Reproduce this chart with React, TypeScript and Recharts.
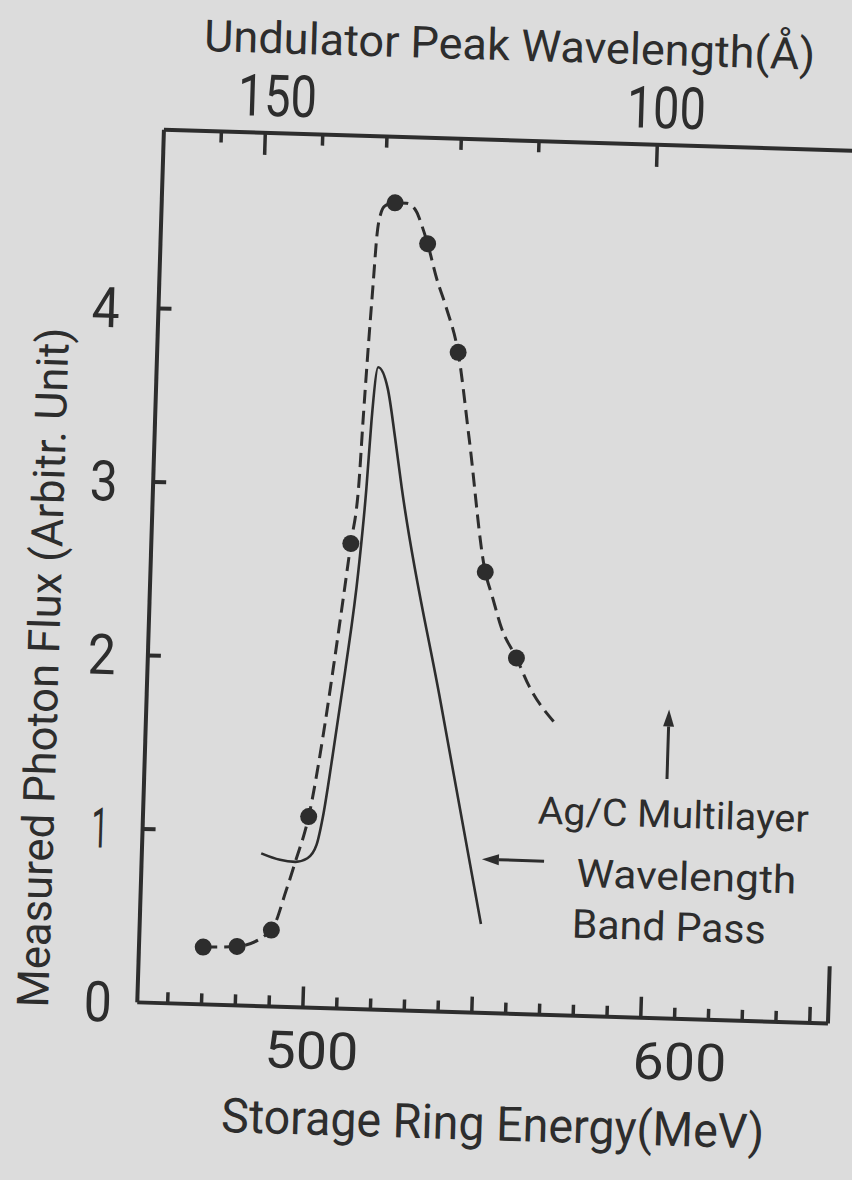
import React from 'react';
import { ComposedChart, Line, Scatter, XAxis, YAxis, ReferenceLine, Customized } from 'recharts';

// measured points (storage ring energy in MeV, photon flux in arbitrary units)
const energyMeV = [470, 480, 490, 500, 510, 520, 530, 540, 550, 560];
const photonFlux = [0.33, 0.34, 0.44, 1.1, 2.68, 4.65, 4.42, 3.8, 2.54, 2.05];

// dashed guide curve drawn through the measurements
const guideMeV = [470, 480, 490, 494, 496.5, 500, 504, 506, 510, 511.8, 512.5, 513.3, 514.2, 514.9, 515.8, 517, 520, 523.4, 526.5, 528, 530, 533, 536, 540, 544, 550, 552.3, 555.3, 560, 564, 571.6];
const guideFlux = [0.33, 0.34, 0.44, 0.67, 0.84, 1.1, 1.64, 1.97, 2.68, 3.01, 3.39, 3.78, 4.16, 4.45, 4.58, 4.63, 4.65, 4.65, 4.6, 4.53, 4.42, 4.22, 4.06, 3.8, 3.31, 2.54, 2.4, 2.22, 2.05, 1.89, 1.69];

// Ag/C multilayer wavelength band pass (solid curve)
const bandMeV = [486.3, 491.9, 496.4, 500, 502.6, 504.2, 506.5, 509.5, 512.5, 514.1, 515, 516.5, 519.5, 522.1, 524.5, 538, 551.9];
const bandFlux = [0.88, 0.846, 0.837, 0.86, 0.94, 1.1, 1.45, 1.95, 2.53, 3.0, 3.39, 3.7, 3.58, 3.3, 3.015, 1.78, 0.512];

// axes
const energyTicks = [460, 470, 480, 490, 500, 510, 520, 530, 540, 550, 560, 570, 580, 590, 600, 610, 620, 630, 640, 650];
const energyLabels = [500, 600];
const fluxTicks = [0, 1, 2, 3, 4];
const wavelengthTicks = [160, 150, 140, 130, 120, 110, 100];
const wavelengthTickMeV = [468, 481, 498, 517, 539, 562, 597];
const wavelengthLabels = [150, 100];

const INK = '#2d2d2d';
const PAPER = '#dcdcdc';
const FONT = 'Roboto, "DejaVu Sans", sans-serif';

function BottomTick(props: any) {
  const { x, y, payload } = props;
  const v = payload.value;
  const len = v % 100 === 0 ? 21 : v % 50 === 0 ? 16 : 11;
  const nudge = v === 600 ? 40 : 10;
  return (
    <g>
      <line x1={x} x2={x} y1={y} y2={y - len} stroke={INK} strokeWidth={3.5} />
      {energyLabels.includes(v) && (
        <text x={x + nudge} y={y + 61} textAnchor="middle" fontFamily={FONT} fontWeight={400} fontSize={52}
          fill={INK} textLength={94} lengthAdjust="spacingAndGlyphs">{v}</text>
      )}
    </g>
  );
}

function TopTick(props: any) {
  const { x, y, payload } = props;
  const i = wavelengthTickMeV.indexOf(payload.value);
  const lambda = wavelengthTicks[i];
  const labelled = wavelengthLabels.includes(lambda);
  const nudge = lambda === 150 ? 11 : 8;
  return (
    <g>
      <line x1={x} x2={x} y1={y} y2={y + (labelled ? 22 : 11)} stroke={INK} strokeWidth={3.5} />
      {labelled && (
        <text x={x + nudge} y={y - 17} textAnchor="middle" fontFamily={FONT} fontWeight={400} fontSize={58}
          fill={INK} textLength={79} lengthAdjust="spacingAndGlyphs">{lambda}</text>
      )}
    </g>
  );
}

function LeftTick(props: any) {
  const { x, y, payload } = props;
  const v = payload.value;
  return (
    <g>
      {v > 0 && <line x1={x} x2={x + 13} y1={y} y2={y} stroke={INK} strokeWidth={4} />}
      <text x={x - 46 + (2 - v) * 3.3} y={y + 20} textAnchor="middle" fontFamily={FONT} fontWeight={400} fontSize={56}
        fill={INK} textLength={v === 1 ? 17 : 28} lengthAdjust="spacingAndGlyphs">{v}</text>
    </g>
  );
}

function Arrow(props: any) {
  const { x1, y1, x2, y2 } = props;
  const dx = x2 - x1;
  const dy = y2 - y1;
  const len = Math.hypot(dx, dy) || 1;
  const ux = dx / len;
  const uy = dy / len;
  const head = 17;
  const half = 5.5;
  const bx = x2 - ux * head;
  const by = y2 - uy * head;
  return (
    <g>
      <line x1={x1} y1={y1} x2={bx} y2={by} stroke={INK} strokeWidth={3} />
      <polygon
        points={`${x2},${y2} ${bx - uy * half},${by + ux * half} ${bx + uy * half},${by - ux * half}`}
        fill={INK}
      />
    </g>
  );
}

function Lettering() {
  const t = { fontFamily: FONT, fontWeight: 400, fill: INK, textAnchor: 'middle' as const, lengthAdjust: 'spacingAndGlyphs' };
  return (
    <g>
      <text {...t} x={493} y={58} fontSize={44} textLength={611}>Undulator Peak Wavelength(Å)</text>
      <text {...t} x={509} y={1138} fontSize={48} textLength={543}>Storage Ring Energy(MeV)</text>
      <text {...t} x={0} y={0} fontSize={44} textLength={680} transform="translate(61 679) rotate(-90)">
        Measured Photon Flux (Arbitr. Unit)
      </text>
      <text {...t} x={680} y={820} fontSize={38} textLength={271}>Ag/C Multilayer</text>
      <text {...t} x={695} y={882} fontSize={39} textLength={220}>Wavelength</text>
      <text {...t} x={679} y={933} fontSize={40} textLength={194}>Band Pass</text>
    </g>
  );
}

export default function App() {
  const measured = energyMeV.map((e, i) => ({ e, f: photonFlux[i] }));
  const guide = guideMeV.map((e, i) => ({ e, f: guideFlux[i] }));
  const band = bandMeV.map((e, i) => ({ e, f: bandFlux[i] }));

  return (
    <div style={{ position: 'absolute', left: 0, top: 0, width: 852, height: 1180, background: PAPER, overflow: 'hidden' }}>
      <div style={{ transform: 'rotate(1.75deg)', transformOrigin: '426px 590px', width: 852, height: 1180 }}>
        <ComposedChart width={852} height={1180} margin={{ top: 88, right: 11, bottom: 109, left: 50 }}>
          <XAxis
            xAxisId="bottom" orientation="bottom" type="number" dataKey="e"
            domain={[451, 655.4]} allowDataOverflow ticks={energyTicks} interval={0}
            height={60} tickSize={0} tickMargin={0} tickLine={false}
            axisLine={{ stroke: INK, strokeWidth: 4 }} tick={<BottomTick />}
          />
          <XAxis
            xAxisId="top" orientation="top" type="number" dataKey="e"
            domain={[451, 655.4]} allowDataOverflow ticks={wavelengthTickMeV} interval={0}
            height={50} tickSize={0} tickMargin={0} tickLine={false}
            axisLine={{ stroke: INK, strokeWidth: 4 }} tick={<TopTick />}
          />
          <YAxis
            yAxisId="flux" type="number" domain={[0, 5.03]} allowDataOverflow ticks={fluxTicks} interval={0}
            width={100} tickSize={0} tickMargin={0} tickLine={false}
            axisLine={{ stroke: INK, strokeWidth: 4 }} tick={<LeftTick />}
          />
          <ReferenceLine
            xAxisId="bottom" yAxisId="flux" ifOverflow="visible"
            segment={[{ x: 655.4, y: 0 }, { x: 655.4, y: 0.33 }]}
            stroke={INK} strokeWidth={4}
          />
          <Line
            xAxisId="bottom" yAxisId="flux" data={band} dataKey="f" type="monotone"
            stroke={INK} strokeWidth={2.6} dot={false} isAnimationActive={false}
          />
          <Line
            xAxisId="bottom" yAxisId="flux" data={guide} dataKey="f" type="monotone"
            stroke={INK} strokeWidth={3} strokeDasharray="14 7" dot={false} isAnimationActive={false}
          />
          <Scatter
            xAxisId="bottom" yAxisId="flux" data={measured} dataKey="f" fill={INK}
            isAnimationActive={false}
            shape={(p: any) => <circle cx={p.cx} cy={p.cy} r={8.5} fill={INK} />}
          />
          <ReferenceLine
            xAxisId="bottom" yAxisId="flux" ifOverflow="visible"
            segment={[{ x: 570, y: 0.885 }, { x: 551.6, y: 0.885 }]}
            shape={<Arrow />}
          />
          <ReferenceLine
            xAxisId="bottom" yAxisId="flux" ifOverflow="visible"
            segment={[{ x: 605.6, y: 1.38 }, { x: 605.6, y: 1.78 }]}
            shape={<Arrow />}
          />
          <Customized component={Lettering} />
        </ComposedChart>
      </div>
    </div>
  );
}
